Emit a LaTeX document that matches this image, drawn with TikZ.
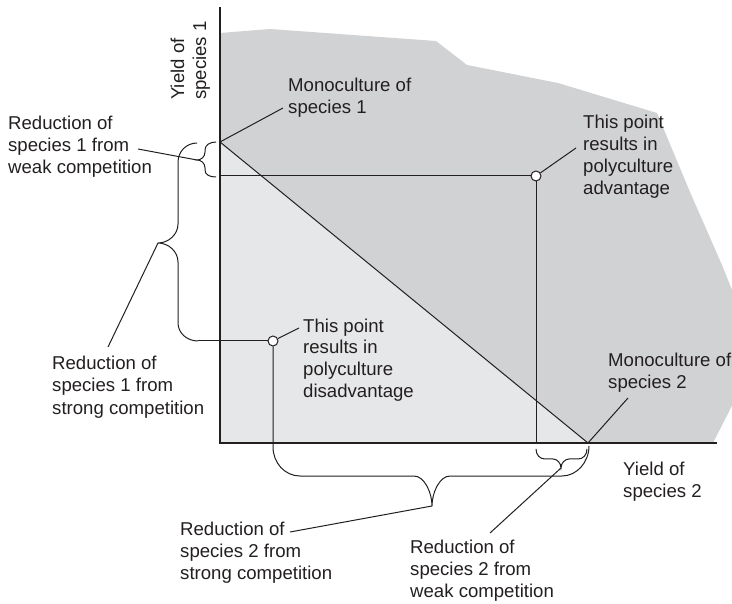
\documentclass[tikz,border=0pt]{standalone}
\usepackage{fontspec}
\setmainfont{Liberation Sans}
\definecolor{ink}{HTML}{231F20}
\definecolor{darkzone}{HTML}{D1D2D4}
\definecolor{lightzone}{HTML}{E6E7E8}
\begin{document}
\begin{tikzpicture}[x=1pt,y=-1pt,
  lbl/.style={font=\fontsize{18.6}{22}\selectfont, align=left, inner sep=0pt,
              anchor=base west, text=ink},
  thin/.style={line width=1pt, draw=ink},
  ax/.style={line width=1.5pt, draw=ink},
  pt/.style={circle, draw=ink, fill=white, line width=1pt,
             minimum size=10pt, inner sep=0pt}]
\useasboundingbox (0,0) rectangle (732,604);

% shaded regions: advantage zone and the triangle under the yield line
\begin{scope}
  \clip (0,0) rectangle (732,604);
  \fill[darkzone] (220,33) -- (270,29) -- (436,41) -- (467,65) -- (558,83)
    -- (657,113) -- (690,192) -- (722,265) -- (740,310) -- (740,390)
    -- (713,443) -- (220,443) -- cycle;
\end{scope}
\fill[lightzone] (220,142) -- (588,443) -- (220,443) -- cycle;

% key points
\coordinate (O) at (220,443);
\coordinate (ytop) at (220,7);
\coordinate (xend) at (717,443);
\coordinate (m1) at (220,142);
\coordinate (m2) at (588,443);
\coordinate (advy) at (220,176);
\coordinate (advx) at (536,443);

% axes and the line joining the two monocultures
\draw[ax] (ytop) -- (O) -- (xend);
\draw[thin] (m1) -- (m2);

% the two example points
\node[pt] (adv) at (536,176) {};
\node[pt] (dis) at (273,341) {};
\draw[thin] (advy) -- (adv.west);
\draw[thin] (adv.south) -- (advx);

% brace tips and ends
\coordinate (b1tip) at (197,160);
\coordinate (b2tip) at (158,243);
\coordinate (b2end) at (198,341);
\coordinate (b3tip) at (432,506);
\coordinate (b4tip) at (561,468);

% small brace on the y axis (weak competition)
\draw[thin] (216,142) .. controls (210,142) and (205,145) .. (205,150)
  -- (205,152) .. controls (205,157) and (201,160) .. (b1tip)
  .. controls (201,160) and (205,163) .. (205,168)
  -- (205,170) .. controls (205,175) and (210,177) .. (216,177);

% large brace on the y axis (strong competition), running on to the point
\draw[thin] (197,143) .. controls (186.5,143) and (178,151.5) .. (178,162)
  -- (178,224) .. controls (178,234.5) and (168.5,243) .. (b2tip)
  .. controls (168.5,243) and (178,251.5) .. (178,262)
  -- (178,323) .. controls (178,333) and (187,341) .. (b2end);
\draw[thin] (b2end) -- (dis.west);

% large brace on the x axis (strong competition), starting at the point
\draw[thin] (dis.south) -- (273,447)
  .. controls (273,463) and (285,476) .. (300,476)
  -- (414,476) .. controls (424,476) and (432,492) .. (b3tip)
  .. controls (432,492) and (440,476) .. (450,476)
  -- (562,476) .. controls (577,476) and (589,462) .. (589,446);

% small brace on the x axis (weak competition)
\draw[thin] (536,449) .. controls (536,455) and (540,459) .. (545,459)
  -- (553,459) .. controls (557,459) and (561,463) .. (b4tip)
  .. controls (561,463) and (565,459) .. (569,459)
  -- (578,459) .. controls (583,459) and (587,455) .. (587,449);

% labels (each placed at the baseline of its last line)
\node[lbl, rotate=90] (ylab) at (206,100) {Yield of\\species 1};
\node[lbl] (xlab) at (623,497) {Yield of\\species 2};
\node[lbl] (mono1) at (288,114) {Monoculture of\\species 1};
\node[lbl] (mono2) at (608,389) {Monoculture of\\species 2};
\node[lbl] (advlab) at (583,195) {This point\\results in\\polyculture\\advantage};
\node[lbl] (dislab) at (303,398) {This point\\results in\\polyculture\\disadvantage};
\node[lbl] (r1weak) at (8,174) {Reduction of\\species 1 from\\weak competition};
\node[lbl] (r1strong) at (52,414) {Reduction of\\species 1 from\\strong competition};
\node[lbl] (r2strong) at (180,579) {Reduction of\\species 2 from\\strong competition};
\node[lbl] (r2weak) at (410,597) {Reduction of\\species 2 from\\weak competition};

% leader lines
\coordinate (l1) at (283,108);
\coordinate (l2) at (576,148);
\coordinate (l3) at (299,328);
\coordinate (l4) at (628,398);
\coordinate (l5) at (138,149);
\coordinate (l6) at (108,347);
\coordinate (l7) at (290,532);
\coordinate (l8) at (490,533);
\draw[thin] (m1) -- (l1);
\draw[thin] (adv) -- (l2);
\draw[thin] (dis) -- (l3);
\draw[thin] (m2) -- (l4);
\draw[thin] (l5) -- (b1tip);
\draw[thin] (b2tip) -- (l6);
\draw[thin] (l7) -- (b3tip);
\draw[thin] (l8) -- (b4tip);
\end{tikzpicture}
\end{document}
